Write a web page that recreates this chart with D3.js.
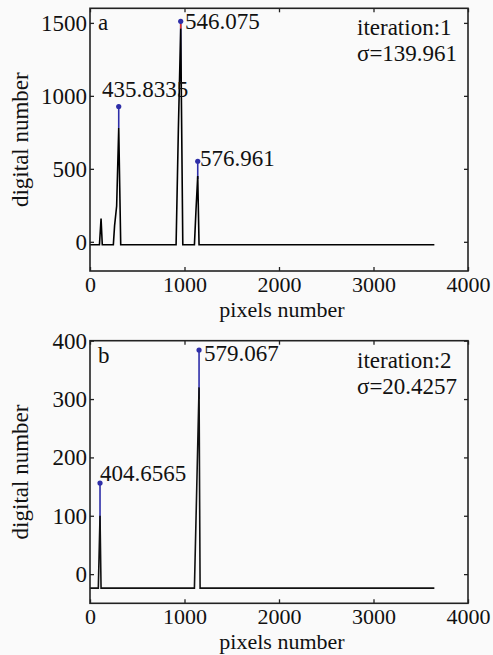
<!DOCTYPE html>
<html>
<head>
<meta charset="utf-8">
<script src="https://cdn.jsdelivr.net/npm/d3@7"></script>
<style>
  body { margin: 0; background: #fafafa; }
  svg { display: block; }
  svg text { font-family: "Liberation Serif"; fill: #111; }
</style>
</head>
<body>
<svg id="chart" width="493" height="655" font-family="Liberation Serif"></svg>
<script>
// panel a: measured spectrum (pixel, digital number)
var pixelsA = [0, 100, 117, 130, 247, 260, 282, 304, 325, 911, 935, 960, 982, 1105, 1122, 1140, 1154, 3644];
var countsA = [-20, -20, 160, -20, -20, 109, 245, 780, -20, -20, 768, 1461, -20, -20, 223, 450, -20, -20];
// panel a: identified lines
var peakPixA = [304, 960, 1140];
var peakValA = [927, 1511, 552];
var peakBaseA = [780, 1100, 430];
var peakNameA = ["435.8335", "546.075", "576.961"];

// panel b
var pixelsB = [0, 88, 106, 117, 1105, 1154, 1165, 3644];
var countsB = [-24, -24, 100, -24, -24, 320, -24, -24];
var peakPixB = [106, 1154];
var peakValB = [156, 384];
var peakBaseB = [60, 300];
var peakNameB = ["404.6565", "579.067"];

var xTicks = [0, 1000, 2000, 3000, 4000];
var yTicksA = [0, 500, 1000, 1500];
var yTicksB = [0, 100, 200, 300, 400];

var svg = d3.select("#chart");
var blue = "#2e2ea8";
var fmt = d3.format("d");
var serif = "Liberation Serif";

function panel(opt) {
  var x = d3.scaleLinear().domain([0, 4000]).range([opt.left, opt.right]);
  var y = d3.scaleLinear().domain(opt.yDomain).range([opt.bottom, opt.top]);
  var g = svg.append("g");

  var line = d3.line().x(function(d) { return x(d[0]); }).y(function(d) { return y(d[1]); });
  var pts = opt.pixels.map(function(p, i) { return [p, opt.counts[i]]; });

  // blue stems to the fitted line peaks
  g.append("g").selectAll("line")
    .data(opt.peakPix)
    .enter().append("line")
    .attr("x1", function(d) { return x(d); })
    .attr("x2", function(d) { return x(d); })
    .attr("y1", function(d, i) { return y(opt.peakBase[i]); })
    .attr("y2", function(d, i) { return y(opt.peakVal[i]); })
    .style("stroke", blue)
    .style("stroke-width", 1.6);

  g.append("path")
    .datum(pts)
    .attr("d", line)
    .style("fill", "none")
    .style("stroke", opt.lineColor)
    .style("stroke-width", 1.6);

  if (opt.red) {
    g.append("line")
      .attr("x1", x(opt.red[0])).attr("x2", x(opt.red[0]))
      .attr("y1", y(opt.red[1])).attr("y2", y(opt.red[2]))
      .style("stroke", "#e0302a").style("stroke-width", 1.6);
  }

  g.append("g").selectAll("circle")
    .data(opt.peakPix)
    .enter().append("circle")
    .attr("cx", function(d) { return x(d); })
    .attr("cy", function(d, i) { return y(opt.peakVal[i]); })
    .attr("r", 2.6)
    .style("fill", blue);

  // peak labels
  g.append("g").selectAll("text")
    .data(opt.peakNames)
    .enter().append("text")
    .attr("x", function(d, i) { return opt.labelPos[i][0]; })
    .attr("y", function(d, i) { return opt.labelPos[i][1]; })
    .style("font-size", "23px")
    .text(function(d) { return d; });

  // axes, ticks inward
  var fs = "23px";
  var ax = g.append("g").attr("transform", "translate(0," + opt.bottom + ")")
    .call(d3.axisBottom(x).tickValues(xTicks).tickFormat(fmt).tickSize(-4).tickPadding(5));
  ax.selectAll("text").style("font-size", "22px").attr("dy", "0.71em");
  g.append("g").attr("transform", "translate(0," + opt.top + ")")
    .call(d3.axisTop(x).tickValues(xTicks).tickSize(-4).tickFormat(""));
  var ay = g.append("g").attr("transform", "translate(" + opt.left + ",0)")
    .call(d3.axisLeft(y).tickValues(opt.yTicks).tickFormat(fmt).tickSize(-4).tickPadding(3));
  ay.selectAll("text").style("font-size", fs);
  g.append("g").attr("transform", "translate(" + opt.right + ",0)")
    .call(d3.axisRight(y).tickValues(opt.yTicks).tickSize(-4).tickFormat(""));
  g.selectAll(".domain").remove();
  g.selectAll("g").attr("font-family", serif);
  g.selectAll(".tick line").style("stroke", "#222").style("stroke-width", 1.3);
  g.selectAll(".tick text").style("fill", "#111");

  g.append("rect")
    .attr("x", opt.left).attr("y", opt.top)
    .attr("width", opt.right - opt.left).attr("height", opt.bottom - opt.top)
    .style("fill", "none").style("stroke", "#222").style("stroke-width", 1.6);

  // titles
  g.append("text")
    .attr("x", (opt.left + opt.right) / 2 + 3).attr("y", opt.bottom + 46)
    .attr("text-anchor", "middle").style("font-size", "22px")
    .text("pixels number");
  g.append("text")
    .attr("transform", "translate(28," + ((opt.top + opt.bottom) / 2) + ") rotate(-90)")
    .attr("text-anchor", "middle").style("font-size", fs)
    .text("digital number");

  g.append("text").attr("x", opt.left + 8).attr("y", opt.top + 22)
    .style("font-size", fs).text(opt.tag);
  g.append("text").attr("x", 357).attr("y", opt.top + 27)
    .style("font-size", fs).text(opt.iter);
  g.append("text").attr("x", 357).attr("y", opt.top + 53)
    .style("font-size", fs).text(opt.sigma);
}

panel({
  left: 90, right: 468, top: 8.3, bottom: 271,
  yDomain: [-200, 1600], yTicks: yTicksA,
  pixels: pixelsA, counts: countsA, lineColor: "#000",
  peakPix: peakPixA, peakVal: peakValA, peakBase: peakBaseA, peakNames: peakNameA,
  labelPos: [[102, 97], [185, 29], [200, 166]],
  red: [960, 1461, 1492],
  tag: "a", iter: "iteration:1", sigma: "\u03c3=139.961"
});

panel({
  left: 90, right: 468, top: 340.7, bottom: 603.3,
  yDomain: [-50, 400], yTicks: yTicksB,
  pixels: pixelsB, counts: countsB, lineColor: "#111",
  peakPix: peakPixB, peakVal: peakValB, peakBase: peakBaseB, peakNames: peakNameB,
  labelPos: [[100, 481], [204, 361]],
  tag: "b", iter: "iteration:2", sigma: "\u03c3=20.4257"
});
</script>
</body>
</html>
